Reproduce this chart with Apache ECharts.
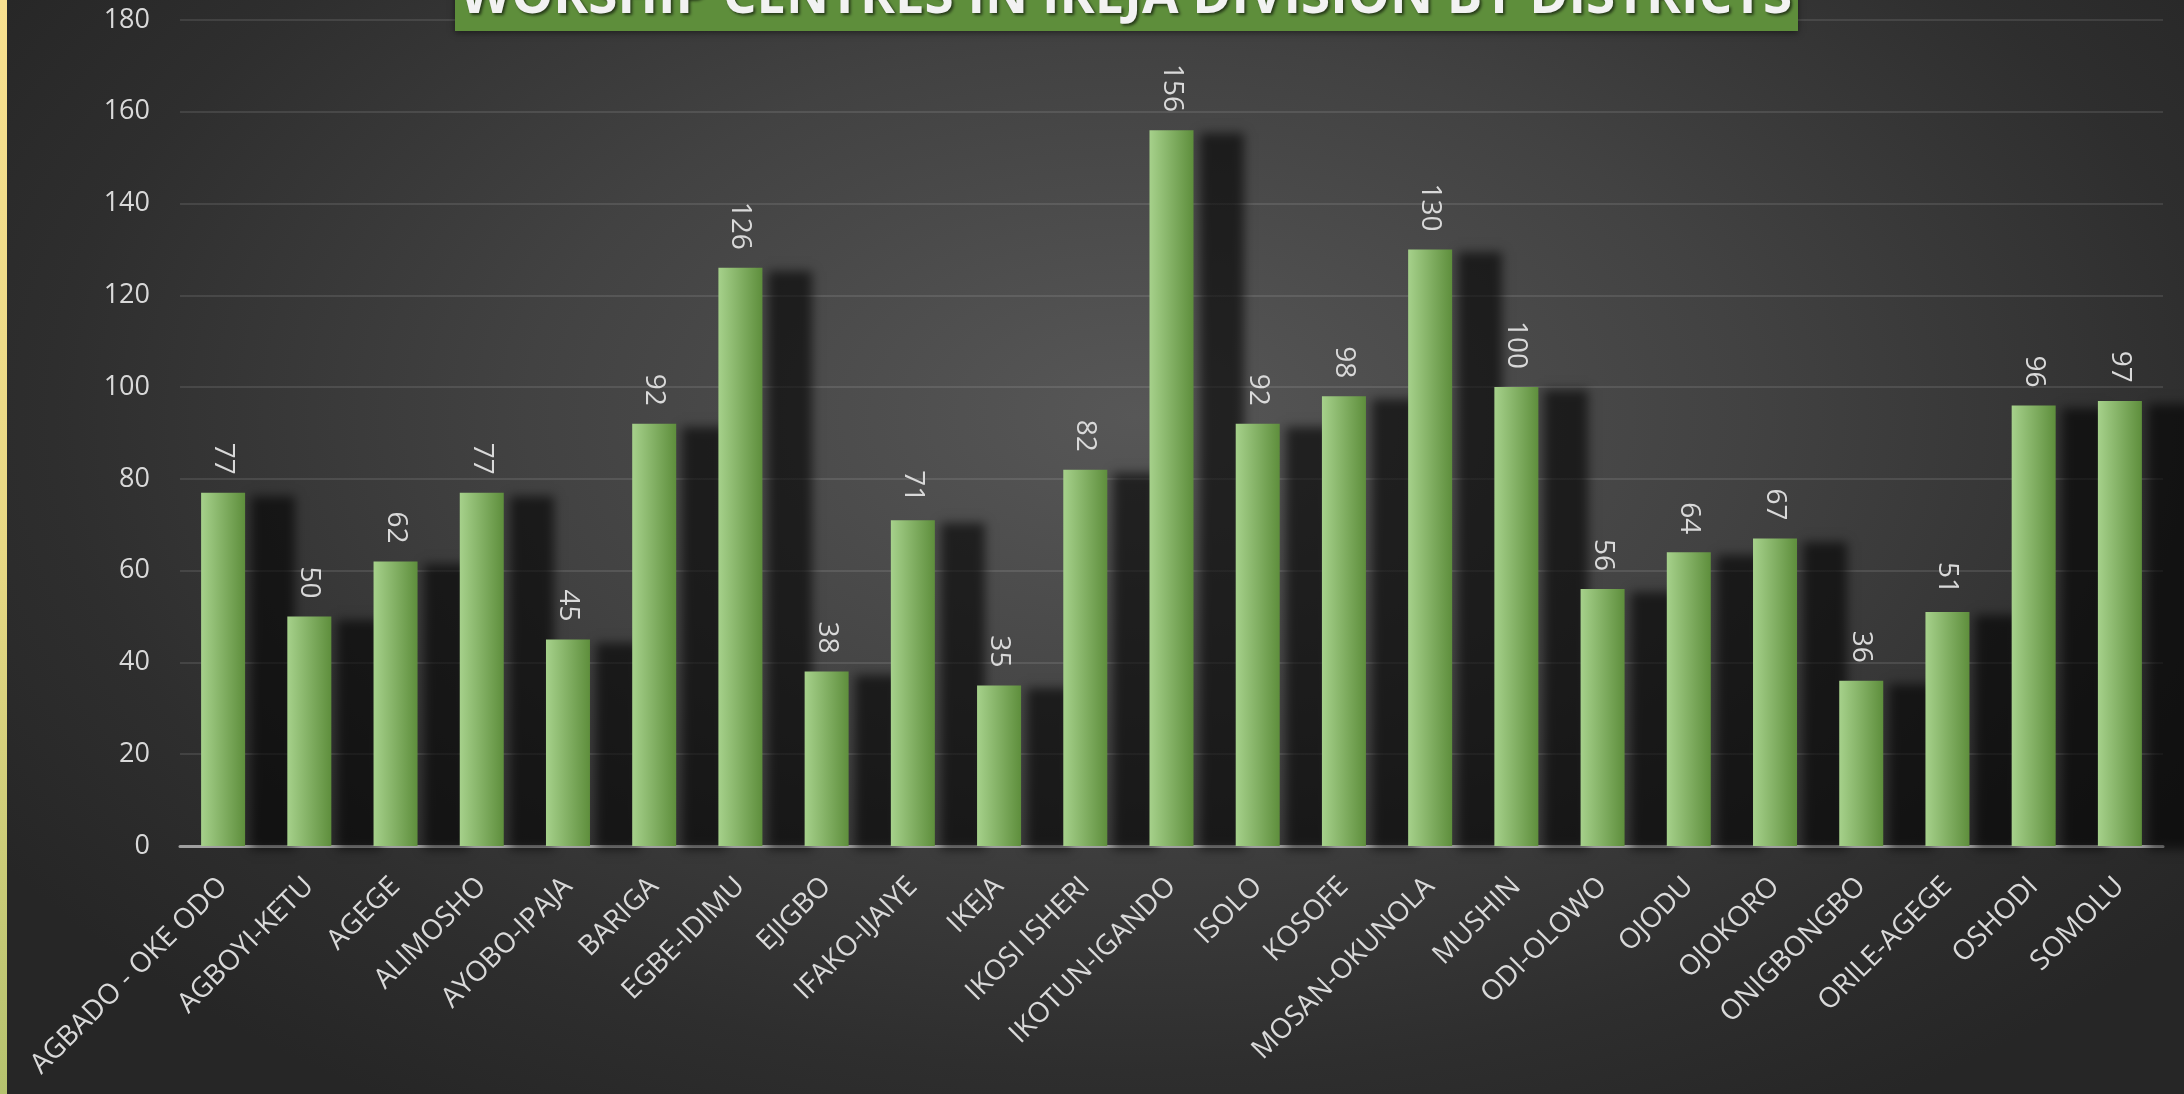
<!DOCTYPE html>
<html>
<head>
<meta charset="utf-8">
<script src="https://cdn.jsdelivr.net/npm/echarts@6/dist/echarts.min.js"></script>
<style>
  html, body { margin: 0; padding: 0; width: 2184px; height: 1094px; overflow: hidden; }
  body { background: radial-gradient(ellipse 62% 75% at 52% 38%, #575757 0%, #424242 45%, #2e2e2e 80%, #262626 100%); }
  #strip { position: absolute; left: 0; top: 0; width: 7px; height: 1094px; background: linear-gradient(#f8e08f, #e8d884 50%, #b5c26e); }
  #chart { position: absolute; left: 0; top: 0; width: 2184px; height: 1094px; }
</style>
</head>
<body>
<div id="strip"></div>
<div id="chart"></div>
<script>
const titleText = 'WORSHIP CENTRES IN IKEJA DIVISION BY DISTRICTS';
const categories = ['AGBADO - OKE ODO', 'AGBOYI-KETU', 'AGEGE', 'ALIMOSHO', 'AYOBO-IPAJA', 'BARIGA', 'EGBE-IDIMU', 'EJIGBO', 'IFAKO-IJAIYE', 'IKEJA', 'IKOSI ISHERI', 'IKOTUN-IGANDO', 'ISOLO', 'KOSOFE', 'MOSAN-OKUNOLA', 'MUSHIN', 'ODI-OLOWO', 'OJODU', 'OJOKORO', 'ONIGBONGBO', 'ORILE-AGEGE', 'OSHODI', 'SOMOLU'];
const values = [77, 50, 62, 77, 45, 92, 126, 38, 71, 35, 82, 156, 92, 98, 130, 100, 56, 64, 67, 36, 51, 96, 97];
const yMin = 0, yMax = 180, yStep = 20;

const chart = echarts.init(document.getElementById('chart'), null, { renderer: 'canvas' });
const font = '"Open Sans", "DejaVu Sans", sans-serif';
chart.setOption({
  backgroundColor: 'transparent',
  animation: false,
  grid: { left: 180, right: 21, top: 20, bottom: 248, containLabel: false },
  xAxis: {
    type: 'category',
    data: categories,
    axisLine: { show: true, lineStyle: { color: '#a0a0a0', width: 3 } },
    axisTick: { show: false },
    axisLabel: { rotate: 45, interval: 0, margin: 36, color: '#d9d9d9', fontSize: 28, fontFamily: font }
  },
  yAxis: {
    type: 'value', min: yMin, max: yMax, interval: yStep,
    axisLine: { show: false }, axisTick: { show: false },
    splitLine: { lineStyle: { color: 'rgba(255,255,255,0.10)', width: 2 } },
    axisLabel: { margin: 30, color: '#d9d9d9', fontSize: 27, fontFamily: font }
  },
  graphic: [
    { type: 'rect', shape: { x: 455, y: -30, width: 1343, height: 61 },
      style: { fill: '#5e8e3b', shadowColor: 'rgba(0,0,0,0.45)', shadowBlur: 6, shadowOffsetY: 2 }, z: 10 },
    { type: 'text', x: 1126, y: -2, z: 11,
      style: { text: titleText, fill: '#f2f2f2', font: 'bold 53px "Open Sans", sans-serif',
               textAlign: 'center', textVerticalAlign: 'middle',
               textShadowColor: 'rgba(0,0,0,0.6)', textShadowBlur: 3, textShadowOffsetX: 2, textShadowOffsetY: 2 } }
  ],
  series: [{
    type: 'bar',
    data: values,
    barWidth: 44,
    itemStyle: {
      color: new echarts.graphic.LinearGradient(0, 0, 1, 0, [
        { offset: 0, color: '#a6d18b' },
        { offset: 1, color: '#5e8e3c' }
      ]),
      shadowColor: 'rgba(0,0,0,0.6)', shadowBlur: 10, shadowOffsetX: 50, shadowOffsetY: 3
    },
    label: {
      show: true, position: 'top', distance: 18, rotate: -90,
      align: 'right', verticalAlign: 'middle',
      color: '#d9d9d9', fontSize: 28, fontFamily: font
    }
  }]
});
</script>
</body>
</html>
